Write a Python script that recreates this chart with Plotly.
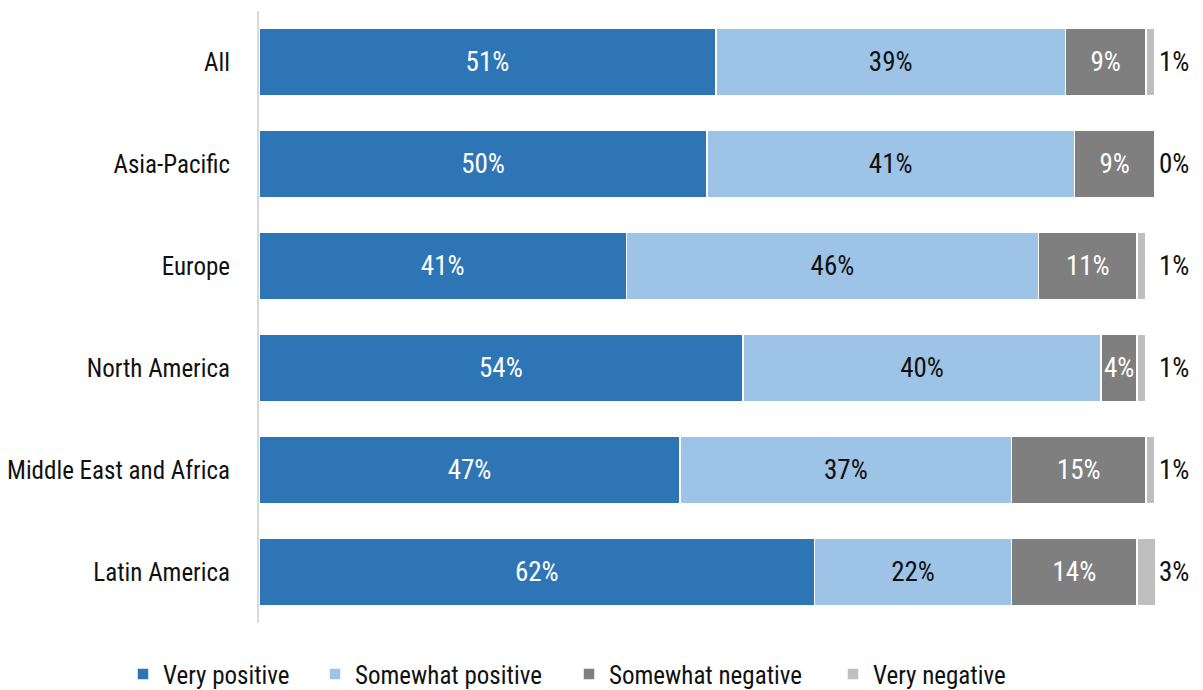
import plotly.graph_objects as go

regions = ["All", "Asia-Pacific", "Europe", "North America",
           "Middle East and Africa", "Latin America"]
very_positive = [51, 50, 41, 54, 47, 62]
somewhat_positive = [39, 41, 46, 40, 37, 22]
somewhat_negative = [9, 9, 11, 4, 15, 14]
very_negative = [1, 0, 1, 1, 1, 3]

series = [
    ("Very positive", very_positive, "#2E75B6", "white"),
    ("Somewhat positive", somewhat_positive, "#9DC3E6", "#111111"),
    ("Somewhat negative", somewhat_negative, "#7F7F7F", "white"),
    ("Very negative", very_negative, "#BFBFBF", "#111111"),
]

# one legend per series so each entry sits at its own horizontal slot
legend_x = [-0.1518, 0.0625, 0.346, 0.6406]

FONT = "Roboto Condensed, Liberation Sans Narrow, DejaVu Sans Condensed, sans-serif"
LABEL_SIZE = 27

fig = go.Figure()
for i, (name, vals, color, tcolor) in enumerate(series):
    show_inside = name != "Very negative"
    fig.add_trace(go.Bar(
        name=name,
        y=regions,
        x=vals,
        orientation="h",
        marker=dict(color=color, line=dict(color="white", width=1.5)),
        text=[f"{v}%" for v in vals] if show_inside else None,
        textposition="inside" if show_inside else "none",
        insidetextanchor="middle",
        textangle=0,
        constraintext="none",
        textfont=dict(family=FONT, size=LABEL_SIZE, color=tcolor),
        hoverinfo="skip",
        legend="legend" if i == 0 else f"legend{i + 1}",
    ))

# Very negative shares are labelled just past the end of each bar
for reg, v in zip(regions, very_negative):
    fig.add_annotation(
        x=100, y=reg, xref="x", yref="y",
        text=f"{v}%", showarrow=False,
        xanchor="left", xshift=2,
        font=dict(family=FONT, size=LABEL_SIZE, color="#111111"),
    )

legend_style = dict(
    orientation="h",
    xref="paper", xanchor="left",
    y=-0.046, yanchor="top",
    font=dict(family=FONT, size=25, color="#111111"),
    bgcolor="rgba(0,0,0,0)",
)
legends = {}
for i, lx in enumerate(legend_x):
    key = "legend" if i == 0 else f"legend{i + 1}"
    legends[key] = dict(legend_style, x=lx)

fig.update_layout(
    width=1203, height=690,
    barmode="stack",
    bargap=0.333,
    plot_bgcolor="white",
    paper_bgcolor="white",
    margin=dict(l=259, r=48, t=11, b=67, autoexpand=False),
    font=dict(family=FONT, size=25, color="#111111"),
    uniformtext=dict(minsize=10, mode="show"),
    showlegend=True,
    **legends,
)
fig.update_xaxes(range=[0, 100], visible=False, fixedrange=True)
fig.update_yaxes(
    autorange="reversed",
    automargin=False,
    showline=True, linecolor="#D9D9D9", linewidth=2,
    ticks="", ticklabelstandoff=22,
    tickfont=dict(family=FONT, size=25, color="#111111"),
    showgrid=False,
)

fig.write_html("out.html")
